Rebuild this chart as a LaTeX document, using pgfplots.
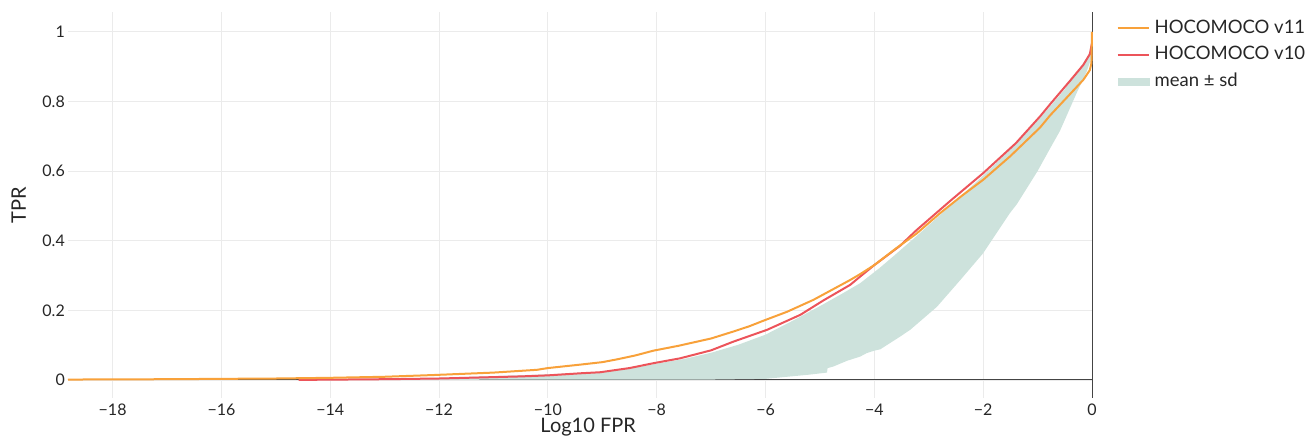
\documentclass[border=0pt]{standalone}
\usepackage{pgfplots}
\pgfplotsset{compat=1.18}
\usepackage{fontspec}
\setmainfont{Lato}
\definecolor{cOr}{RGB}{248,161,58}
\definecolor{cRd}{RGB}{236,84,90}
\definecolor{cBd}{RGB}{205,226,220}
\definecolor{cGrid}{RGB}{235,235,235}
\definecolor{cZero}{RGB}{68,68,68}
\begin{document}
\begin{tikzpicture}
\useasboundingbox (-68pt,-41pt) rectangle (1244pt,398pt);
\begin{axis}[
  at={(0,0)}, anchor=south west,
  scale only axis, width=1024pt, height=386pt,
  xmin=-18.82, xmax=0, ymin=-0.052, ymax=1.057,
  clip=false,
  axis line style={draw=none},
  tick style={draw=none},
  xtick={-18,-16,-14,-12,-10,-8,-6,-4,-2,0},
  xticklabels={−18,−16,−14,−12,−10,−8,−6,−4,−2,0},
  ytick={0,0.2,0.4,0.6,0.8,1},
  yticklabels={0,0.2,0.4,0.6,0.8,1},
  ticklabel style={font=\fontsize{16}{19}\selectfont, text=black!85},
  xticklabel style={inner sep=0pt, anchor=north, yshift=-6pt},
  yticklabel style={inner sep=0pt, anchor=east, xshift=-3pt},
  grid=major,
  major grid style={draw=cGrid, line width=0.8pt},
  extra x ticks={0}, extra x tick labels={},
  extra y ticks={0}, extra y tick labels={},
  extra tick style={grid=major, major grid style={draw=cZero, line width=1pt}},
  xlabel={Log10 FPR},
  ylabel={TPR},
  label style={font=\fontsize{20}{24}\selectfont, text=black!85},
  xlabel style={at={(axis description cs:0.508,0)}, anchor=north, yshift=-20pt, inner sep=0pt},
  ylabel style={at={(axis description cs:-0.041,0.5)}, anchor=south, inner sep=0pt},
  legend style={at={(axis description cs:1.021,0.986)}, anchor=north west, draw=none, fill=none,
    font=\fontsize{18.5}{22}\selectfont, text=black!85,
    nodes={inner sep=0pt, text height=13.5pt, text depth=4pt, anchor=west},
    row sep=9pt, column sep=5pt},
  legend cell align=left,
  legend image code/.code={\draw[#1] (0pt,0pt) -- (31pt,0pt);},
]
% band mean +- sd
\addplot[fill=cBd, draw=none, forget plot] coordinates {
(-14.5,0.0) (-13,0.003) (-12,0.006) (-11,0.011) (-10,0.016) (-9,0.023) (-8.5,0.033)
(-8.06,0.045) (-7.5,0.060) (-7,0.078) (-6.5,0.101) (-6,0.130) (-5.5,0.170) (-5,0.212)
(-4.6,0.247) (-4.26,0.278) (-3.9,0.322) (-3.6,0.362) (-3.16,0.422) (-2.5,0.515) (-2.0,0.587)
(-1.4,0.677) (-0.955,0.752) (-0.5,0.835) (-0.16,0.91) (-0.04,0.94) (0,0.955)
(0,0.93) (-0.1,0.885) (-0.28,0.825) (-0.59,0.715) (-0.77,0.665) (-1.0,0.600) (-1.38,0.505)
(-1.51,0.479) (-2.0,0.364) (-2.42,0.287) (-2.85,0.210) (-3.34,0.144) (-3.53,0.124)
(-3.89,0.088) (-4.0,0.084) (-4.14,0.077) (-4.26,0.067) (-4.5,0.055) (-4.76,0.038)
(-4.86,0.034) (-4.87,0.021) (-5.2,0.015) (-5.67,0.008) (-6.0,0.003) (-7.0,0.001) (-14.5,0.0)
} -- cycle;
% HOCOMOCO v10
\addplot[cRd, line width=2pt, forget plot] coordinates {
(-14.58,0.0) (-13,0.002) (-12,0.004) (-11.24,0.007) (-10.5,0.010) (-10,0.013) (-9.4,0.019)
(-9.04,0.022) (-8.5,0.034) (-8.06,0.048) (-7.57,0.062) (-7,0.085) (-6.59,0.110) (-5.97,0.144)
(-5.36,0.187) (-4.94,0.228) (-4.445,0.273) (-4.26,0.297) (-4.0,0.330) (-3.53,0.385)
(-3.22,0.431) (-2.6,0.515) (-2.0,0.594) (-1.4,0.680) (-0.955,0.757) (-0.77,0.792)
(-0.4,0.860) (-0.16,0.905) (-0.04,0.936) (0,0.968)
};
% HOCOMOCO v11
\addplot[cOr, line width=2pt, forget plot] coordinates {
(-18.82,0.001) (-17,0.002) (-16,0.003) (-15,0.004) (-14,0.006) (-13,0.009) (-12.1,0.014)
(-11,0.021) (-10.2,0.029) (-10,0.034) (-9.4,0.044) (-9,0.051) (-8.73,0.059) (-8.4,0.070)
(-8.06,0.084) (-7.6,0.098) (-7,0.119) (-6.59,0.139) (-6.3,0.154) (-6.04,0.170) (-5.6,0.196)
(-5.12,0.230) (-4.8,0.257) (-4.445,0.287) (-4.26,0.304) (-4.0,0.330) (-3.6,0.378)
(-3.22,0.421) (-2.8,0.478) (-2.4,0.528) (-2.0,0.575) (-1.5,0.643) (-0.955,0.725)
(-0.77,0.760) (-0.5,0.805) (-0.16,0.862) (-0.04,0.890) (-0.01,0.91) (0,1.0)
};
\addlegendimage{cOr, line width=2pt}
\addlegendentry{HOCOMOCO v11}
\addlegendimage{cRd, line width=2pt}
\addlegendentry{HOCOMOCO v10}
\addlegendimage{legend image code/.code={\fill[cBd] (0pt,-3.5pt) rectangle (31pt,3.5pt);}}
\addlegendentry{mean ± sd}
\end{axis}
\end{tikzpicture}
\end{document}
